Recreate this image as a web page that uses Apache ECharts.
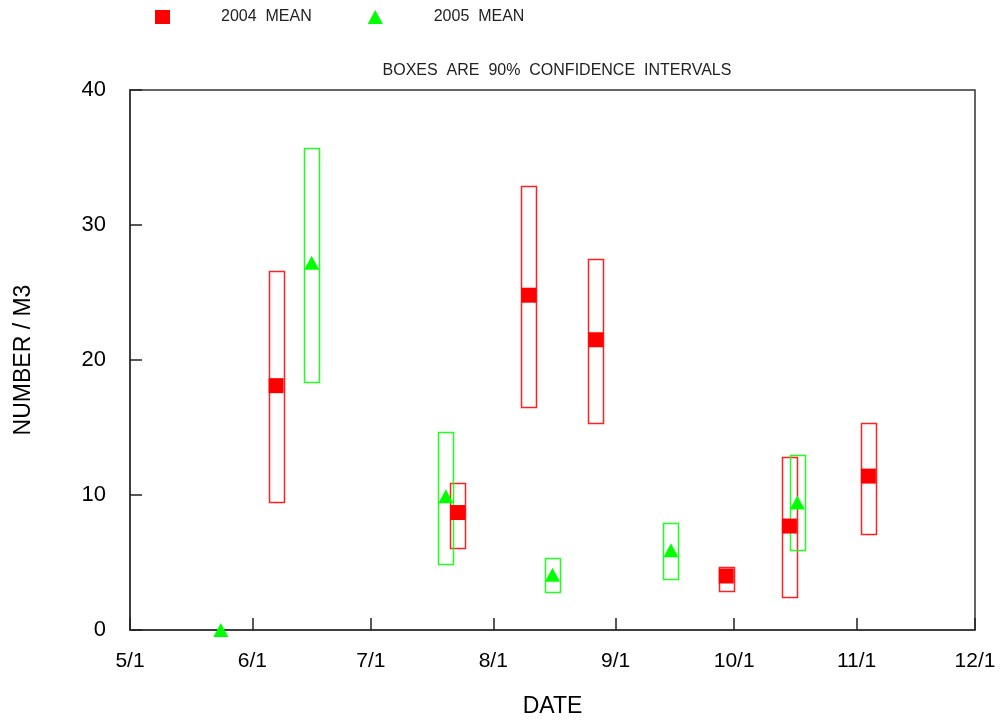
<!DOCTYPE html>
<html>
<head>
<meta charset="utf-8">
<script src="https://cdn.jsdelivr.net/npm/echarts@6/dist/echarts.min.js"></script>
<style>html,body{margin:0;padding:0;background:#fff}#c{width:1004px;height:723px}</style>
</head>
<body>
<div id="c"></div>
<script>
// ---- data ----
const tickLabels = ['5/1','6/1','7/1','8/1','9/1','10/1','11/1','12/1'];
const dates2004 = ['6/7','7/23','8/10','8/27','9/29','10/15','11/4'];
const mean2004  = [18.1, 8.7, 24.8, 21.5, 4.0, 7.7, 11.4];
const low2004   = [9.5, 6.1, 16.5, 15.3, 2.95, 2.5, 7.15];
const high2004  = [26.6, 10.9, 32.9, 27.45, 4.7, 12.85, 15.35];
const dates2005 = ['5/24','6/16','7/20','8/16','9/15','10/17'];
const mean2005  = [0, 27.2, 9.9, 4.1, 5.9, 9.45];
const low2005   = [null, 18.4, 4.9, 2.75, 3.75, 6.0];
const high2005  = [null, 35.7, 14.7, 5.3, 7.9, 13.0];

const monthStart = {5:0, 6:31, 7:61, 8:92, 9:123, 10:153, 11:184, 12:214};
function dayOf(s){ const p = s.split('/').map(Number); return monthStart[p[0]] + p[1] - 1; }
const tickDays = tickLabels.map(dayOf);

const box04 = dates2004.map((d,i)=>[dayOf(d), low2004[i], high2004[i]]);
const box05 = dates2005.map((d,i)=>[dayOf(d), low2005[i], high2005[i]]).filter(r=>r[1]!=null);
const pts04 = dates2004.map((d,i)=>[dayOf(d), mean2004[i]]);
const pts05 = dates2005.map((d,i)=>[dayOf(d), mean2005[i]]);

function boxRenderer(color){
  return function(params, api){
    const x = api.value(0);
    const p1 = api.coord([x, api.value(2)]);
    const p2 = api.coord([x, api.value(1)]);
    const w = 15;
    return {
      type: 'rect',
      shape: { x: Math.round(p1[0]-w/2)+0.5, y: Math.round(p1[1])+0.5, width: w, height: Math.round(p2[1]-p1[1]) },
      style: { fill: 'none', stroke: color, lineWidth: 1.5 }
    };
  };
}

const FONT = 'Liberation Sans, Arial, sans-serif';
const chart = echarts.init(document.getElementById('c'), null, {renderer:'canvas'});
chart.setOption({
  animation: false,
  backgroundColor: '#fff',
  title: {
    text: 'BOXES  ARE  90%  CONFIDENCE  INTERVALS',
    left: 557, top: 63, padding: 0, textAlign: 'center',
    textStyle: { fontFamily: FONT, fontSize: 16, fontWeight: 'normal', color: '#222' }
  },
  legend: {
    left: 155, top: 9, padding: 0,
    itemWidth: 15, itemHeight: 14, itemGap: 56,
    data: [
      { name: '2004  MEAN', icon: 'rect' },
      { name: '2005  MEAN', icon: 'triangle' }
    ],
    textStyle: { fontFamily: FONT, fontSize: 16, color: '#222', padding: [3,0,0,46] }
  },
  grid: { left: 130, right: 29, top: 90, bottom: 92, show: true, borderColor: '#333', borderWidth: 1.5, backgroundColor: 'transparent' },
  xAxis: {
    type: 'value', min: 0, max: 214,
    name: 'DATE', nameLocation: 'middle', nameGap: 65,
    nameTextStyle: { fontFamily: FONT, fontSize: 23, color: '#000' },
    axisLine: { show: true, lineStyle: { color: '#333', width: 1.5 } },
    axisTick: { show: true, inside: true, length: 12, customValues: tickDays, lineStyle: { color: '#222', width: 1.5 } },
    axisLabel: { customValues: tickDays, margin: 21, fontFamily: FONT, fontSize: 21, color: '#000',
      formatter: v => tickLabels[tickDays.indexOf(Math.round(v))] || '' },
    splitLine: { show: false }
  },
  yAxis: {
    type: 'value', min: 0, max: 40, interval: 10,
    name: 'NUMBER / M3', nameLocation: 'middle', nameGap: 95,
    nameTextStyle: { fontFamily: FONT, fontSize: 23, color: '#000' },
    axisLine: { show: true, lineStyle: { color: '#333', width: 1.5 } },
    axisTick: { show: true, inside: true, length: 12, lineStyle: { color: '#222', width: 1.5 } },
    axisLabel: { margin: 24, fontFamily: FONT, fontSize: 22, color: '#000' },
    splitLine: { show: false }
  },
  series: [
    { type: 'custom', name: 'box2004', renderItem: boxRenderer('#ff2020'), data: box04, encode: { x: 0, y: [1,2] }, z: 2 },
    { type: 'custom', name: 'box2005', renderItem: boxRenderer('#20ff20'), data: box05, encode: { x: 0, y: [1,2] }, z: 2 },
    { type: 'scatter', name: '2005  MEAN', data: pts05, symbol: 'triangle', symbolSize: [15,14],
      itemStyle: { color: '#00ff00', opacity: 1 }, z: 4 },
    { type: 'scatter', name: '2004  MEAN', data: pts04, symbol: 'rect', symbolSize: [15,15],
      itemStyle: { color: '#ff0000', opacity: 1 }, z: 5 }
  ]
});
</script>
</body>
</html>
